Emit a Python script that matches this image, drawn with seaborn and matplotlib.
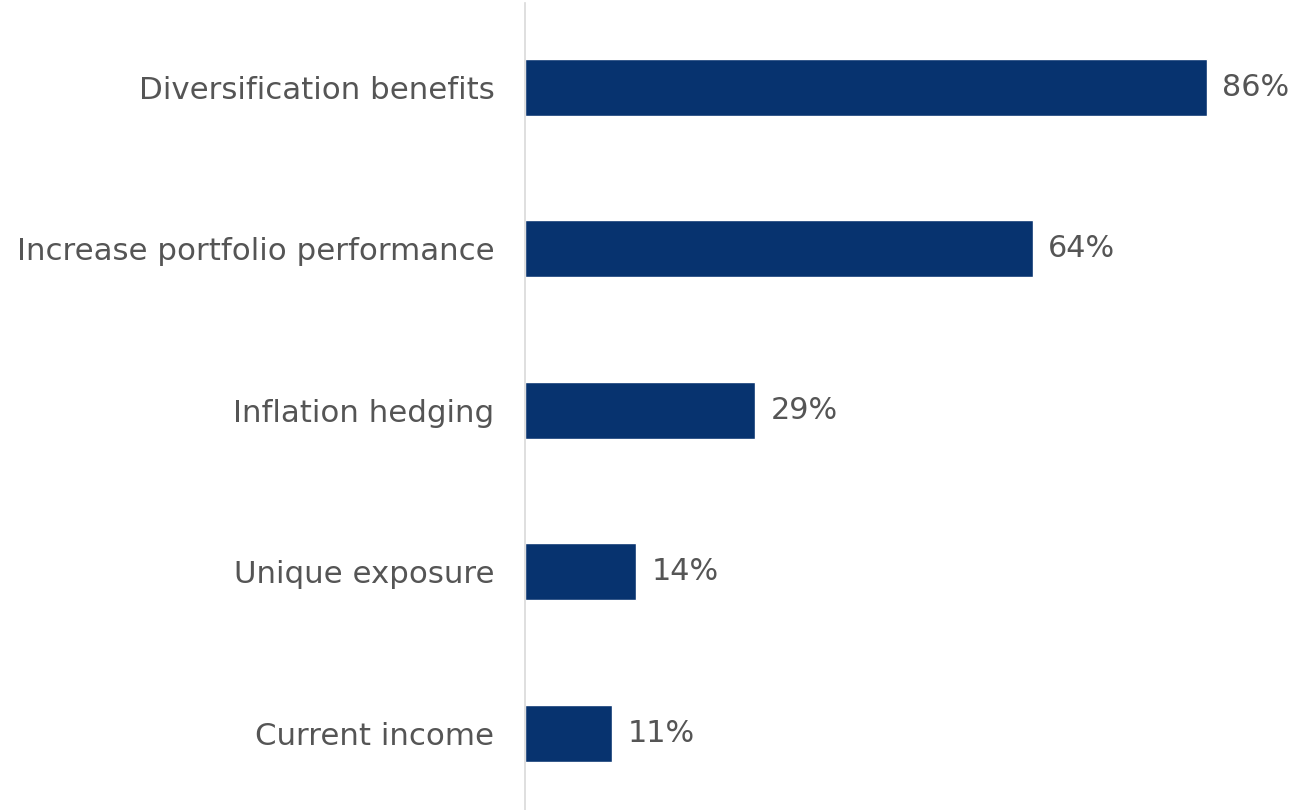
import matplotlib
matplotlib.use("Agg")
import matplotlib.pyplot as plt
import seaborn as sns
import pandas as pd

categories = ["Diversification benefits", "Increase portfolio performance",
              "Inflation hedging", "Unique exposure", "Current income"]
values = [86, 64, 29, 14, 11]
value_labels = ["86%", "64%", "29%", "14%", "11%"]

sns.set_style("white")
plt.rcParams['font.family'] = ['DejaVu Sans']

df = pd.DataFrame({"category": categories, "value": values})

fig = plt.figure(figsize=(13.03, 8.10), dpi=100)
ax = fig.add_axes([525/1303, 0, 1 - 525/1303, 1 - 3/810])

sns.barplot(data=df, x="value", y="category", orient="h", color="#07336f",
            width=0.353, ax=ax, saturation=1)

ax.set_xlim(0, 98.1)
ax.set_ylim(4.474, -0.522)
ax.bar_label(ax.containers[0], labels=value_labels, padding=11,
             fontsize=21.8, color="#555555")

ax.set_xlabel("")
ax.set_ylabel("")
ax.set_xticks([])
for s in ["top", "right", "bottom"]:
    ax.spines[s].set_visible(False)
ax.spines["left"].set_color("#d9d9d9")
ax.spines["left"].set_linewidth(1.2)
ax.tick_params(axis="y", length=0, pad=22, labelsize=22.2, labelcolor="#555555")

fig.savefig("out.png", dpi=100)
